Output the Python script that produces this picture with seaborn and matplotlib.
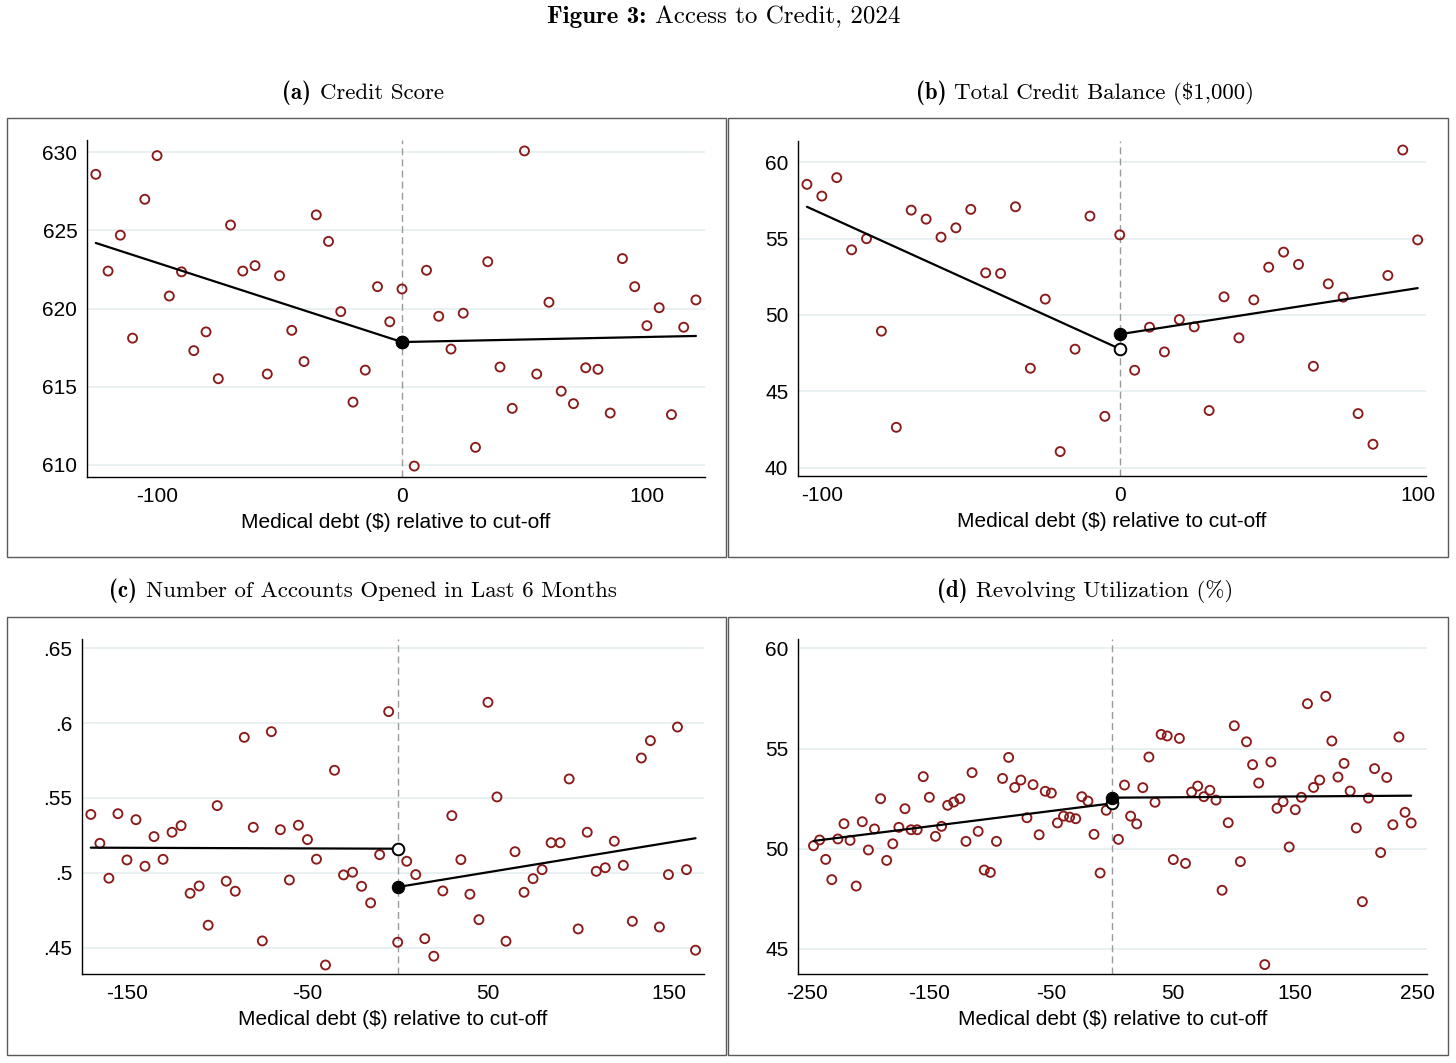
import matplotlib
matplotlib.use("Agg")
import matplotlib.pyplot as plt
import seaborn as sns
from matplotlib.patches import Rectangle

# ---- panel (a) Credit Score
a_x = [-125, -120, -115, -110, -105, -100, -95, -90, -85, -80, -75, -70, -65, -60, -55,
       -50, -45, -40, -35, -30, -25, -20, -15, -10, -5, 0, 5, 10, 15, 20, 25, 30, 35,
       40, 45, 50, 55, 60, 65, 70, 75, 80, 85, 90, 95, 100, 105, 110, 115, 120]
a_y = [628.6, 622.4, 624.7, 618.1, 627.0, 629.8, 620.8, 622.35, 617.3, 618.5, 615.5,
       625.35, 622.4, 622.75, 615.8, 622.1, 618.6, 616.6, 626.0, 624.3, 619.8, 614.0,
       616.05, 621.4, 619.15, 621.25, 609.9, 622.45, 619.5, 617.4, 619.7, 611.1, 623.0,
       616.25, 613.6, 630.1, 615.8, 620.4, 614.7, 613.9, 616.2, 616.1, 613.3, 623.2,
       621.4, 618.9, 620.05, 613.2, 618.8, 620.55]
a_fit_left_x = [-125, 0]
a_fit_left_y = [624.2, 617.85]
a_fit_right_x = [0, 120]
a_fit_right_y = [617.85, 618.24]

# ---- panel (b) Total Credit Balance
b_x = [-105, -100, -95, -90, -85, -80, -75, -70, -65, -60, -55, -50, -45, -40, -35,
       -30, -25, -20, -15, -10, -5, 0, 5, 10, 15, 20, 25, 30, 35, 40, 45, 50, 55, 60,
       65, 70, 75, 80, 85, 90, 95, 100]
b_y = [58.56, 57.79, 59.0, 54.27, 55.0, 48.94, 42.64, 56.87, 56.28, 55.1, 55.71, 56.92,
       52.76, 52.72, 57.09, 46.51, 51.04, 41.05, 47.76, 56.48, 43.36, 55.25, 46.38, 49.2,
       47.58, 49.7, 49.22, 43.74, 51.19, 48.5, 50.99, 53.13, 54.12, 53.31, 46.64, 52.04,
       51.17, 43.54, 41.53, 52.59, 60.81, 54.92]
b_fit_left_x = [-105, 0]
b_fit_left_y = [57.09, 47.78]
b_fit_right_x = [0, 100]
b_fit_right_y = [48.74, 51.76]

# ---- panel (c) Number of accounts opened
c_x = [-170, -165, -160, -155, -150, -145, -140, -135, -130, -125, -120, -115, -110,
       -105, -100, -95, -90, -85, -80, -75, -70, -65, -60, -55, -50, -45, -40, -35,
       -30, -25, -20, -15, -10, -5, 0, 5, 10, 15, 20, 25, 30, 35, 40, 45, 50, 55, 60,
       65, 70, 75, 80, 85, 90, 95, 100, 105, 110, 115, 120, 125, 130, 135, 140, 145,
       150, 155, 160, 165]
c_y = [.539, .5197, .4964, .5395, .5086, .5355, .5044, .5242, .5090, .5271, .5315,
       .4863, .4912, .4650, .5449, .4944, .4877, .5905, .5304, .4545, .5943, .5288,
       .4952, .5318, .5222, .5091, .4384, .5685, .4986, .5004, .4910, .4799, .5121,
       .6077, .4536, .5077, .4988, .4560, .4443, .4879, .5382, .5088, .4857, .4687,
       .6139, .5507, .4543, .5141, .4870, .4961, .5021, .5201, .5201, .5627, .4625,
       .5271, .5010, .5034, .5211, .5050, .4676, .5767, .5883, .4638, .4988, .5974,
       .5021, .4483]
c_fit_left_x = [-170, 0]
c_fit_left_y = [.5168, .5161]
c_fit_right_x = [0, 165]
c_fit_right_y = [.4905, .5231]

# ---- panel (d) Revolving utilization
d_x = [-245, -240, -235, -230, -225, -220, -215, -210, -205, -200, -195, -190, -185,
       -180, -175, -170, -165, -160, -155, -150, -145, -140, -135, -130, -125, -120,
       -115, -110, -105, -100, -95, -90, -85, -80, -75, -70, -65, -60, -55, -50, -45,
       -40, -35, -30, -25, -20, -15, -10, -5, 5, 10, 15, 20, 25, 30, 35, 40, 45, 50,
       55, 60, 65, 70, 75, 80, 85, 90, 95, 100, 105, 110, 115, 120, 125, 130, 135,
       140, 145, 150, 155, 160, 165, 170, 175, 180, 185, 190, 195, 200, 205, 210, 215,
       220, 225, 230, 235, 240, 245]
d_y = [50.15, 50.44, 49.47, 48.46, 50.49, 51.25, 50.42, 48.14, 51.35, 49.94, 50.99,
       52.50, 49.42, 50.25, 51.07, 52.0, 50.95, 50.95, 53.6, 52.57, 50.62, 51.12, 52.17,
       52.33, 52.5, 50.37, 53.8, 50.87, 48.94, 48.82, 50.37, 53.51, 54.56, 53.06, 53.43,
       51.55, 53.2, 50.7, 52.87, 52.78, 51.29, 51.63, 51.58, 51.5, 52.6, 52.38, 50.72,
       48.79, 51.92, 50.47, 53.18, 51.63, 51.24, 53.05, 54.58, 52.32, 55.71, 55.63,
       49.46, 55.51, 49.27, 52.83, 53.13, 52.6, 52.92, 52.43, 47.93, 51.3, 56.14, 49.36,
       55.34, 54.2, 53.28, 44.22, 54.33, 52.02, 52.35, 50.09, 51.95, 52.57, 57.24, 53.06,
       53.43, 57.61, 55.38, 53.58, 54.26, 52.88, 51.04, 47.36, 52.53, 54.0, 49.81, 53.56,
       51.2, 55.58, 51.82, 51.29]
d_fit_left_x = [-245, 0]
d_fit_left_y = [50.39, 52.27]
d_fit_right_x = [0, 245]
d_fit_right_y = [52.55, 52.65]

panel_titles = [("(a)", "Credit Score"),
                ("(b)", "Total Credit Balance ($1,000)"),
                ("(c)", "Number of Accounts Opened in Last 6 Months"),
                ("(d)", "Revolving Utilization (%)")]
xlabel = "Medical debt (\\$) relative to cut-off"

a_xticks = [-100, 0, 100]
a_yticks = [610, 615, 620, 625, 630]
b_xticks = [-100, 0, 100]
b_yticks = [40, 45, 50, 55, 60]
c_xticks = [-150, -50, 50, 150]
c_yticks = [.45, .5, .55, .6, .65]
c_ylabels = [".45", ".5", ".55", ".6", ".65"]
d_xticks = [-250, -150, -50, 50, 150, 250]
d_yticks = [45, 50, 55, 60]

RED = "#8b1a1a"
GRID = "#e6eff1"

sns.set_style("white")
plt.rcParams["font.family"] = ["Liberation Sans", "DejaVu Sans"]
plt.rcParams["mathtext.fontset"] = "cm"
plt.rcParams["text.color"] = "black"
plt.rcParams["axes.labelcolor"] = "black"
plt.rcParams["xtick.labelcolor"] = "black"
plt.rcParams["ytick.labelcolor"] = "black"

W, H = 1456, 1063
fig = plt.figure(figsize=(W / 100, H / 100), dpi=100)


def px_axes(l, t, r, b):
    return fig.add_axes([l / W, 1 - b / H, (r - l) / W, (b - t) / H])


def draw_panel(ax, x, y, lx, ly, rx, ry, xticks, yticks, xlim, ylim, ylabels=None):
    ax.set_axisbelow(True)
    ax.yaxis.grid(True, color=GRID, lw=1.3)
    ax.axvline(0, color="#9a9a9a", lw=1.0, ls=(0, (5, 3)), zorder=1)
    sns.scatterplot(x=x, y=y, ax=ax, s=42, facecolors="none", edgecolor=RED,
                    linewidth=1.35, zorder=3)
    sns.lineplot(x=lx, y=ly, ax=ax, color="black", lw=1.6, zorder=4)
    sns.lineplot(x=rx, y=ry, ax=ax, color="black", lw=1.6, zorder=4)
    # hollow dot = left limit, filled dot = right limit
    sns.scatterplot(x=[lx[-1]], y=[ly[-1]], ax=ax, s=70, facecolors="white",
                    edgecolor="black", linewidth=1.4, zorder=5)
    sns.scatterplot(x=[rx[0]], y=[ry[0]], ax=ax, s=80, color="black",
                    edgecolor="black", zorder=6)
    ax.set_xlim(*xlim)
    ax.set_ylim(*ylim)
    ax.set_xticks(xticks)
    ax.set_xticklabels([str(v) for v in xticks])
    ax.set_yticks(yticks)
    if ylabels is None:
        ax.set_yticklabels([str(v) for v in yticks])
    else:
        ax.set_yticklabels(ylabels)
    for side in ["top", "right"]:
        ax.spines[side].set_visible(False)
    for side in ["left", "bottom"]:
        ax.spines[side].set_color("black")
        ax.spines[side].set_linewidth(1.0)
    ax.tick_params(axis="both", labelsize=15, length=4, width=0.8,
                   color="#444444", labelcolor="black", pad=3, direction="out")
    ax.set_xlabel(xlabel, fontsize=15, labelpad=5, color="black")
    ax.set_ylabel("")


ax_a = px_axes(87, 140, 705, 477)
draw_panel(ax_a, a_x, a_y, a_fit_left_x, a_fit_left_y, a_fit_right_x, a_fit_right_y,
           a_xticks, a_yticks, (-128.6, 123.7), (609.2, 630.8))
ax_b = px_axes(798, 141, 1426, 476)
draw_panel(ax_b, b_x, b_y, b_fit_left_x, b_fit_left_y, b_fit_right_x, b_fit_right_y,
           b_xticks, b_yticks, (-108, 102.8), (39.45, 61.4))
ax_c = px_axes(82, 639, 704, 974)
draw_panel(ax_c, c_x, c_y, c_fit_left_x, c_fit_left_y, c_fit_right_x, c_fit_right_y,
           c_xticks, c_yticks, (-174.9, 169.7), (.4324, .6562), c_ylabels)
ax_d = px_axes(798, 639, 1427, 974)
draw_panel(ax_d, d_x, d_y, d_fit_left_x, d_fit_left_y, d_fit_right_x, d_fit_right_y,
           d_xticks, d_yticks, (-257.7, 258), (43.75, 60.47))

# outer boxes around each graph region
for (l, t, r, b) in [(7, 118, 726, 557), (728, 118, 1448, 557),
                     (7, 617, 726, 1055), (728, 617, 1448, 1055)]:
    fig.add_artist(Rectangle((l / W, 1 - b / H), (r - l) / W, (b - t) / H,
                             transform=fig.transFigure, fill=False,
                             edgecolor="#5a5a5a", lw=1.0))


def mixed_title(cx, cy, bold, rest, size):
    t1 = fig.text(0, 0, bold, fontfamily="cmb10", fontsize=size, va="baseline",
                  color="black")
    t2 = fig.text(0, 0, rest.replace("$", "\\$"), fontfamily="cmr10", fontsize=size,
                  va="baseline", color="black")
    r = fig.canvas.get_renderer()
    w1 = t1.get_window_extent(r).width
    w2 = t2.get_window_extent(r).width
    gap = size * 0.5
    x0 = cx - (w1 + gap + w2) / 2
    t1.set_position((x0 / W, 1 - cy / H))
    t2.set_position(((x0 + w1 + gap) / W, 1 - cy / H))


mixed_title(724, 23, "Figure 3:", "Access to Credit, 2024", 18)
centers = [(363, 99), (1085, 99), (363, 597), (1085, 597)]
for (cx, cy), (bold, rest) in zip(centers, panel_titles):
    mixed_title(cx, cy, bold, rest, 16.5)

fig.savefig("out.png", dpi=100, facecolor="white")
